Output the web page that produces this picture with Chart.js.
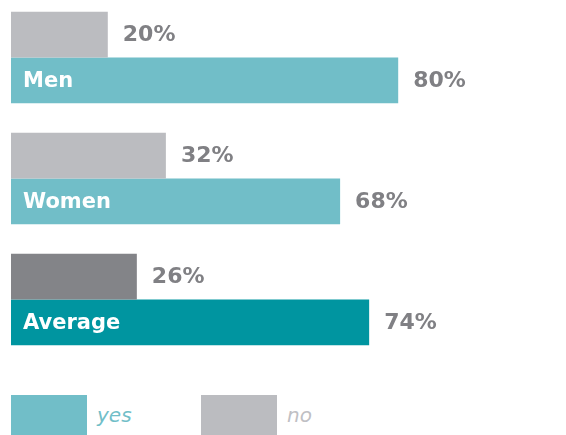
<!DOCTYPE html>
<html>
<head>
<meta charset="utf-8">
<script src="https://cdn.jsdelivr.net/npm/chart.js@4"></script>
<style>
  body { margin: 0; background: #fff; font-family: "DejaVu Sans", Verdana, sans-serif; }
  .chart-container { position: relative; top: -3px; width: 566px; height: 363px; }
  .legend { position: absolute; left: 11px; top: 395px; display: flex; }
  .legend-item { display: flex; align-items: center; margin-right: 38px; }
  .legend-box { width: 76px; height: 40px; margin-right: 10px; }
  .legend-text { font-size: 20px; font-style: italic; width: 66px; }
</style>
</head>
<body>
<div class="chart-container">
  <canvas id="chart"></canvas>
</div>
<div class="legend" id="legend"></div>
<script>
const categories = ['Men', 'Women', 'Average'];
const noValues = [20, 32, 26];
const yesValues = [80, 68, 74];

const noColors = ['#bbbcc0', '#bbbcc0', '#838488'];
const yesColors = ['#71bec8', '#71bec8', '#0095a0'];
const labelColor = '#808084';

// writes the percentages after each bar and the group name inside the "yes" bar
const barLabels = {
  id: 'barLabels',
  afterDatasetsDraw(chart) {
    const ctx = chart.ctx;
    ctx.save();
    ctx.textBaseline = 'middle';
    ctx.textAlign = 'left';
    chart.data.datasets.forEach((ds, i) => {
      const meta = chart.getDatasetMeta(i);
      meta.data.forEach((bar, j) => {
        ctx.font = 'bold 22px "DejaVu Sans"';
        ctx.fillStyle = labelColor;
        ctx.fillText(ds.data[j] + '%', bar.x + 15, bar.y + 1);
        if (ds.label === 'yes') {
          ctx.font = 'bold 21px "DejaVu Sans"';
          ctx.fillStyle = '#fff';
          ctx.fillText(categories[j], bar.base + 12, bar.y + 1);
        }
      });
    });
    ctx.restore();
  }
};

const chart = new Chart(document.getElementById('chart'), {
  type: 'bar',
  data: {
    labels: categories,
    datasets: [
      { label: 'no', data: noValues, backgroundColor: noColors },
      { label: 'yes', data: yesValues, backgroundColor: yesColors }
    ]
  },
  options: {
    indexAxis: 'y',
    responsive: true,
    maintainAspectRatio: false,
    animation: false,
    layout: { padding: { top: 0, left: 11, right: 71, bottom: 0 } },
    datasets: { bar: { categoryPercentage: 0.756, barPercentage: 1 } },
    scales: {
      x: { display: false, min: 0, max: 100 },
      y: { display: false }
    },
    plugins: {
      legend: { display: false },
      tooltip: { enabled: false }
    }
  },
  plugins: [barLabels]
});

// legend under the chart, "yes" first
const legendEl = document.getElementById('legend');
['yes', 'no'].forEach(name => {
  const ds = chart.data.datasets.find(d => d.label === name);
  const color = ds.backgroundColor[0];
  const item = document.createElement('div');
  item.className = 'legend-item';
  item.innerHTML = '<div class="legend-box" style="background:' + color + '"></div>' +
    '<span class="legend-text" style="color:' + (name === 'no' ? '#bfc0c4' : color) + '">' + name + '</span>';
  legendEl.appendChild(item);
});
</script>
</body>
</html>
